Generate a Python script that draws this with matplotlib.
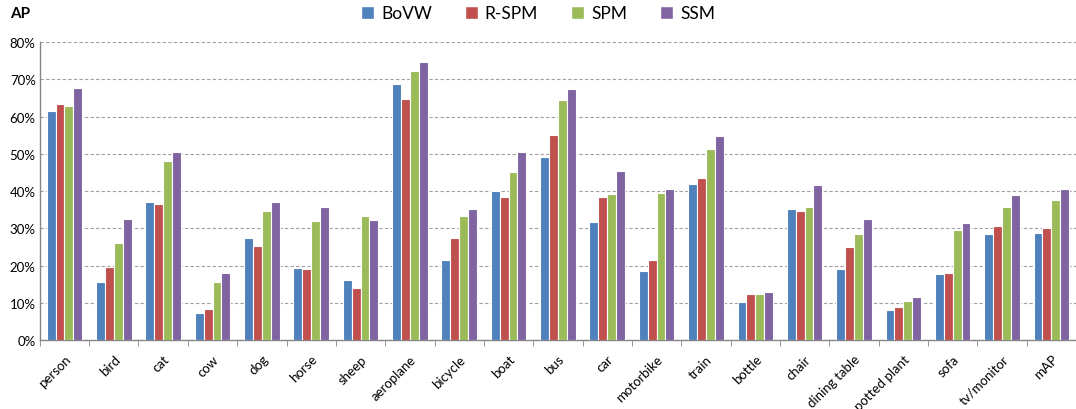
import numpy as np
import matplotlib

matplotlib.use("Agg")
import matplotlib.pyplot as plt
from matplotlib.patches import Patch
from matplotlib.ticker import FuncFormatter

plt.rcParams["font.family"] = ["Lato", "DejaVu Sans"]

categories = ["person", "bird", "cat", "cow", "dog", "horse", "sheep",
              "aeroplane", "bicycle", "boat", "bus", "car", "motorbike",
              "train", "bottle", "chair", "dining table", "potted plant",
              "sofa", "tv/monitor", "mAP"]
methods = ["BoVW", "R-SPM", "SPM", "SSM"]

bovw = [61.5, 15.5, 37.0, 7.3, 27.5, 19.4, 16.2, 68.7, 21.6, 40.0, 49.2,
        31.6, 18.5, 41.8, 10.3, 35.2, 19.0, 8.0, 17.7, 28.6, 28.7]
rspm = [63.3, 19.5, 36.6, 8.3, 25.3, 19.1, 14.0, 64.6, 27.5, 38.3, 55.0,
        38.4, 21.4, 43.4, 12.3, 34.7, 24.9, 9.0, 18.0, 30.7, 30.2]
spm = [62.8, 26.0, 48.2, 15.7, 34.6, 32.0, 33.2, 72.3, 33.4, 45.0, 64.4,
       39.3, 39.6, 51.3, 12.3, 35.6, 28.6, 10.5, 29.5, 35.8, 37.5]
ssm = [67.8, 32.5, 50.6, 18.0, 37.2, 35.6, 32.3, 74.7, 35.2, 50.5, 67.5,
       45.4, 40.5, 54.8, 12.8, 41.5, 32.4, 11.6, 31.5, 39.0, 40.5]

colors = ["#4F81BD", "#C0504D", "#9BBB59", "#8064A2"]

fig = plt.figure(figsize=(10.76, 4.10), dpi=100)
ax = fig.add_axes([0.037, 0.168, 0.963, 0.727])

x = np.arange(len(categories))
w = 0.18
for i, (vals, c) in enumerate(zip([bovw, rspm, spm, ssm], colors)):
    ax.bar(x + (i - 1.5) * w, vals, width=w, color=c,
           edgecolor="white", linewidth=0.8, zorder=3)

ax.set_xlim(-0.5, len(categories) - 0.5)
ax.set_ylim(0, 80)
ax.set_yticks(np.arange(0, 81, 10))
ax.yaxis.set_major_formatter(FuncFormatter(lambda v, _: f"{v:.0f}%"))
ax.grid(axis="y", ls=(0, (3, 2)), color="#a0a0a0", lw=0.8, zorder=0)

ax.set_xticks(x)
ax.set_xticklabels(categories, rotation=45, ha="right",
                   rotation_mode="anchor", fontsize=9.5)
ax.set_xticks(np.arange(-0.5, len(categories)), minor=True)
ax.tick_params(axis="x", which="major", length=0, pad=9)
ax.tick_params(axis="x", which="minor", length=4, color="#868686")
ax.tick_params(axis="y", length=0, labelsize=9.5, pad=3)

for s in ["top", "right"]:
    ax.spines[s].set_visible(False)
for s in ["left", "bottom"]:
    ax.spines[s].set_color("#868686")
    ax.spines[s].set_linewidth(1.0)

fig.text(0.009, 0.965, "AP", fontsize=11, fontweight="bold", va="center")

handles = [Patch(facecolor=c, edgecolor="white") for c in colors]
fig.legend(handles, methods, loc="center", bbox_to_anchor=(0.5, 0.965),
           ncol=4, frameon=False, fontsize=12.5, handlelength=0.75,
           handleheight=0.75, handletextpad=0.4, columnspacing=1.9)

fig.savefig("out.png", dpi=100)
